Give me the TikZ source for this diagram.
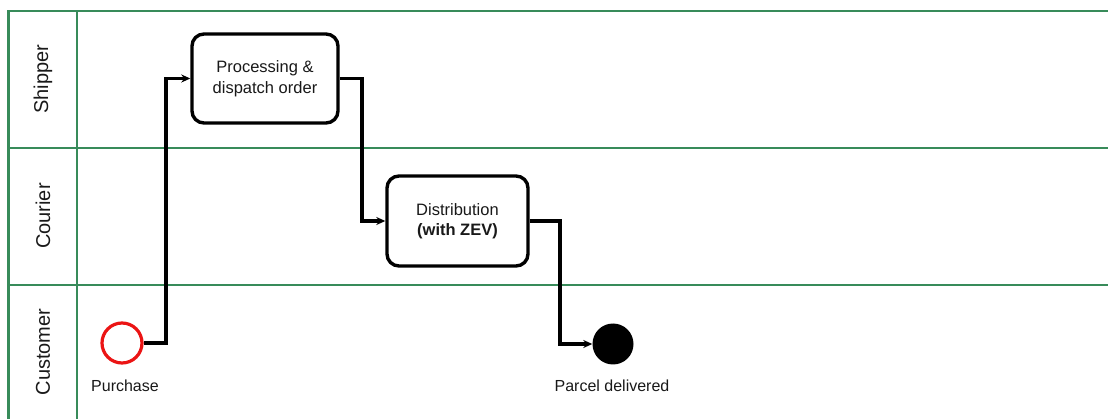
\documentclass[tikz,border=0pt]{standalone}
\usepackage{fontspec}
\setmainfont{Liberation Sans}
\usetikzlibrary{arrows.meta}
\definecolor{lanegreen}{RGB}{56,139,90}
\definecolor{startred}{RGB}{235,20,20}
\definecolor{txt}{RGB}{25,25,25}
\begin{document}
\begin{tikzpicture}[x=1pt,y=-1pt,
  lane/.style={draw=lanegreen,line width=2.8pt},
  lanelabel/.style={rotate=90,font=\fontsize{20}{24}\selectfont,text=txt},
  task/.style={draw=black,line width=3.4pt,rounded corners=12pt,fill=white,
    align=center,font=\fontsize{16.5}{20.5}\selectfont,text=txt,inner sep=0pt},
  flow/.style={draw=black,line width=3.2pt,-{Stealth[length=9pt,width=8pt]}},
  evlabel/.style={font=\fontsize{16}{19}\selectfont,text=txt}]
\useasboundingbox (0,0) rectangle (1108,419);
% pool and lanes
\draw[lane] (1108,11) -- (8.5,11) -- (8.5,419);
\draw[lane] (77,11) -- (77,419);
\draw[lane] (8.5,148) -- (1108,148);
\draw[lane] (8.5,285) -- (1108,285);
\node[lanelabel] (lshipper) at (43,79) {Shipper};
\node[lanelabel] (lcourier) at (43,216) {Courier};
\node[lanelabel] (lcustomer) at (43,352) {Customer};
% tasks
\node[task,minimum width=146pt,minimum height=89pt] (proc) at (265,78.5) {Processing \&\\dispatch order};
\node[task,minimum width=141pt,minimum height=90pt] (dist) at (457.5,221) {Distribution\\\textbf{(with ZEV)}};
% events
\node[circle,draw=startred,line width=3.2pt,minimum size=40pt,inner sep=0pt] (start) at (122,343) {};
\node[circle,fill=black,minimum size=41pt,inner sep=0pt] (end) at (613,344) {};
\node[evlabel] (lstart) at (125,386) {Purchase};
\node[evlabel] (lend) at (612,386) {Parcel delivered};
% sequence flows
\draw[flow] (start.east) -- (166,343) |- (proc.west);
\draw[flow] (proc.east) -- (362,78.5) |- (dist.west);
\draw[flow] (dist.east) -- (560,221) |- (end.west);
\end{tikzpicture}
\end{document}
